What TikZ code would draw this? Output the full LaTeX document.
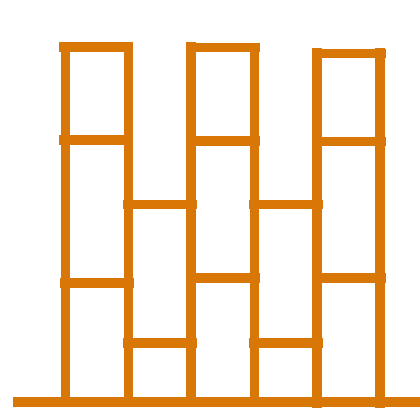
\documentclass[tikz,border=0pt]{standalone}
\usepackage{xcolor}
\usepackage{tikz}
\definecolor{shelfOrange}{HTML}{D97706}

\begin{document}
\begin{tikzpicture}[
  x=0.025cm, y=-0.025cm,
  post/.style={draw=shelfOrange, line width=6.8pt},
  rung/.style={draw=shelfOrange, line width=6.8pt},
  ground/.style={draw=shelfOrange, line width=7pt}
]
\useasboundingbox (0,0) rectangle (420,420);

% Uprights
\draw[post] (65.5,42) -- (65.5,402);
\draw[post] (128.5,42) -- (128.5,402);
\draw[post] (191,42) -- (191,402);
\draw[post] (254.5,43) -- (254.5,402);
\draw[post] (317,48) -- (317,408);
\draw[post] (380,48) -- (380,408);

% Tall bay 1
\draw[rung] (59,47) -- (133,47);
\draw[rung] (59,140) -- (133,140);
\draw[rung] (60,283) -- (134,283);

% Low bay 2
\draw[rung] (123,204.5) -- (197,204.5);
\draw[rung] (123,343) -- (197,343);

% Tall bay 3
\draw[rung] (186,47.5) -- (260,47.5);
\draw[rung] (186,141) -- (260,141);
\draw[rung] (186,278) -- (260,278);

% Low bay 4
\draw[rung] (249,204.5) -- (323,204.5);
\draw[rung] (249,343) -- (323,343);

% Tall bay 5
\draw[rung] (312,53.5) -- (386,53.5);
\draw[rung] (312,141.5) -- (386,141.5);
\draw[rung] (312,278) -- (386,278);

% Floor
\draw[ground] (13,402) -- (420,402);

\end{tikzpicture}
\end{document}
